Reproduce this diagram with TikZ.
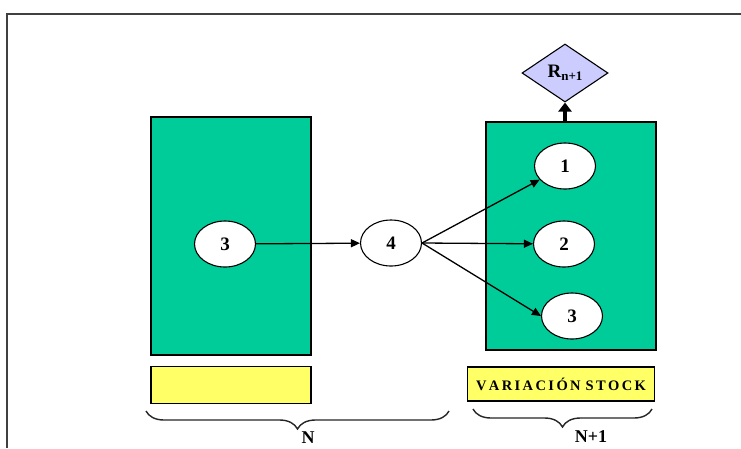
\documentclass[tikz,border=0pt]{standalone}
\usepackage{fontspec}
\setmainfont{Liberation Serif}
\usetikzlibrary{shapes.geometric,arrows.meta,decorations.pathreplacing}
\definecolor{stockgreen}{RGB}{0,204,153}
\definecolor{stockyellow}{RGB}{255,255,102}
\definecolor{lavender}{RGB}{204,204,255}
\begin{document}
\begin{tikzpicture}[x=1pt,y=-1pt,
  greenbox/.style={draw=black,line width=1.6pt,fill=stockgreen,inner sep=0pt},
  yellowbox/.style={draw=black,line width=1.6pt,fill=stockyellow,inner sep=0pt},
  oval/.style={ellipse,draw=black,line width=1.1pt,fill=white,inner sep=0pt,minimum width=61pt,minimum height=46pt,font=\fontsize{19}{19}\selectfont\bfseries},
  arr/.style={line width=1.3pt,-{Triangle[length=9pt,width=8pt]}},
  lbl/.style={font=\fontsize{18}{18}\selectfont\bfseries,inner sep=0pt},
  brc/.style={decorate,decoration={brace,amplitude=18pt},line width=1.4pt,draw=black!85}
]
\useasboundingbox (0,0) rectangle (741,448);
\fill[white] (0,0) rectangle (741,448);
\draw[line width=2.4pt,draw=black!75] (7,448) -- (7,14) -- (741,14);

\node[greenbox,minimum width=160pt,minimum height=238pt] (gL) at (231,236) {};
\node[yellowbox,minimum width=160pt,minimum height=37pt] (yL) at (231,385) {};
\node[greenbox,minimum width=170pt,minimum height=228pt] (gR) at (571,236) {};
\node[yellowbox,minimum width=187pt,minimum height=34pt,font=\fontsize{14.5}{14.5}\selectfont\bfseries] (yR) at (561,384) {V\,A\,R\,I\,A\,C\,I\,Ó\,N\,\,S\,T\,O\,C\,K};

\node[oval] (a3) at (225,244) {3};
\node[oval] (n4) at (391,243) {4};
\node[oval] (b1) at (565,166) {1};
\node[oval] (b2) at (564,244) {2};
\node[oval] (b3) at (572,316) {3};

\node[diamond,draw=black,line width=1.1pt,fill=lavender,inner sep=0pt,minimum width=86pt,minimum height=58pt,font=\fontsize{19}{19}\selectfont\bfseries] (R) at (565,73) {R\raisebox{-3pt}{\fontsize{13}{13}\selectfont n+1}};

\draw[arr] (a3) -- (n4);
\draw[arr] (n4.east) -- (b1);
\draw[arr] (n4.east) -- (b2);
\draw[arr] (n4.east) -- (b3.west);
\draw[line width=4.5pt,-{Triangle[length=9pt,width=13pt]}] (R.south |- gR.north) -- (R.south);

\coordinate (bNa) at (449,411);
\coordinate (bNb) at (146,411);
\coordinate (bMa) at (652,409);
\coordinate (bMb) at (473,409);
\draw[brc] (bNa) -- (bNb);
\draw[brc] (bMa) -- (bMb);
\node[lbl] (N) at (308,438) {N};
\node[lbl] (N1) at (591,437) {N+1};
\end{tikzpicture}
\end{document}
